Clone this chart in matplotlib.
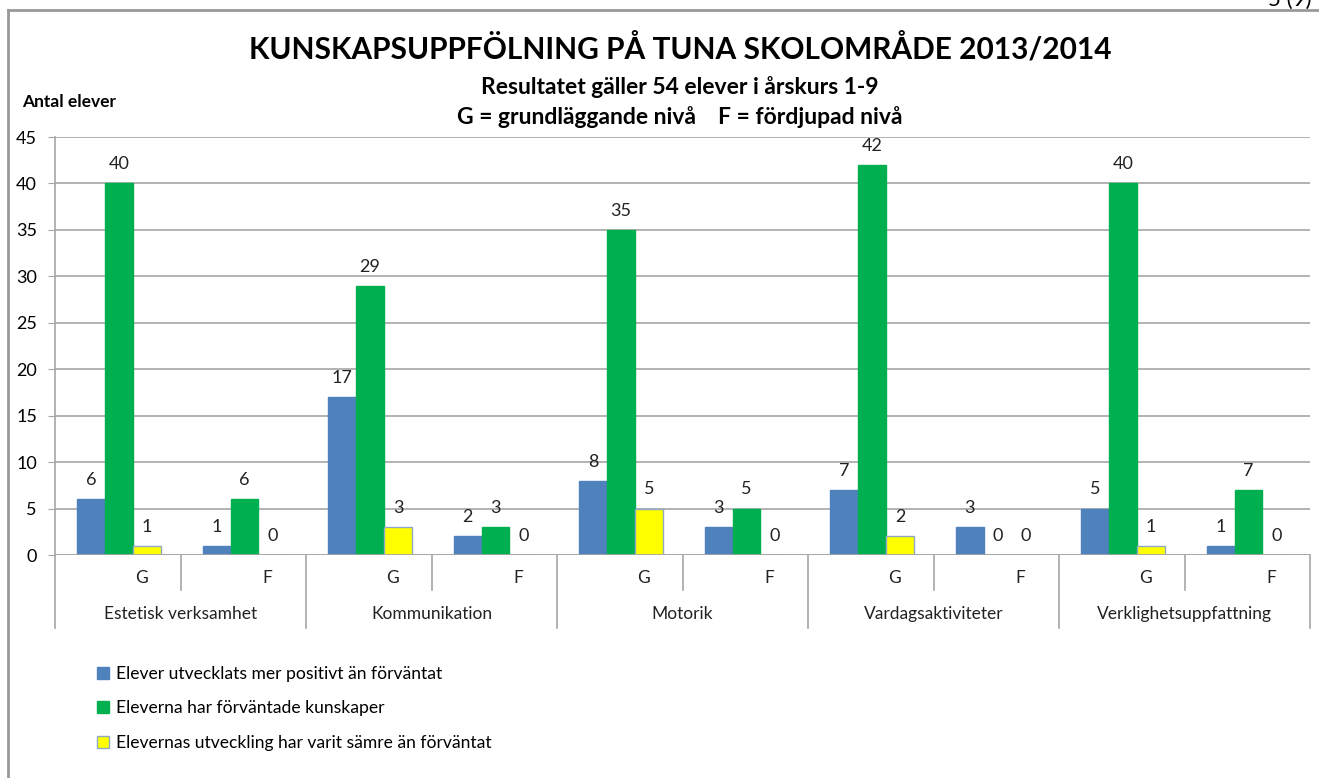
import matplotlib
matplotlib.use("Agg")
import matplotlib.pyplot as plt
from matplotlib.lines import Line2D
from matplotlib.patches import Patch

plt.rcParams['font.family'] = ['Lato', 'DejaVu Sans']

categories = ["Estetisk verksamhet", "Kommunikation", "Motorik",
              "Vardagsaktiviteter", "Verklighetsuppfattning"]
levels = ["G", "F"]
series_names = ["Elever utvecklats mer positivt än förväntat",
                "Eleverna har förväntade kunskaper",
                "Elevernas utveckling har varit sämre än förväntat"]
blue_vals = [6, 1, 17, 2, 8, 3, 7, 3, 5, 1]
green_vals = [40, 6, 29, 3, 35, 5, 42, 0, 40, 7]
yellow_vals = [1, 0, 3, 0, 5, 0, 2, 0, 1, 0]
yticks = list(range(0, 50, 5))

W, H = 1319, 778
fig = plt.figure(figsize=(W / 100, H / 100), dpi=100)
ax = fig.add_axes([55 / W, 1 - 555 / H, (1310 - 55) / W, (555 - 137) / H])

colors = ["#4F81BD", "#00B050", "#FFFF00"]
edges = ["#4F81BD", "#00B050", "#8EA9C8"]
bw = 0.223
n = len(blue_vals)
for k, vals in enumerate([blue_vals, green_vals, yellow_vals]):
    xs = [i + 0.5 + (k - 1) * bw + 0.01 for i in range(n)]
    bars = ax.bar(xs, vals, width=bw, color=colors[k], edgecolor=edges[k],
                  linewidth=1, zorder=3)
    ax.bar_label(bars, padding=8, fontsize=13, color="#222222")

ax.set_xlim(0, n)
ax.set_ylim(0, 45)
ax.set_yticks(yticks)
ax.set_yticklabels([str(t) for t in yticks], fontsize=13)
ax.yaxis.grid(True, color="#A6A6A6", linewidth=1.2, zorder=0)
ax.set_axisbelow(True)
ax.set_xticks([])
for s in ["top", "right", "bottom"]:
    ax.spines[s].set_visible(False)
ax.spines["left"].set_color("#A6A6A6")
ax.spines["left"].set_linewidth(1.2)
ax.axhline(0, color="#A6A6A6", linewidth=1.2, zorder=4)
ax.tick_params(axis="y", length=5, color="#A6A6A6", pad=8)

trans = ax.get_xaxis_transform()
ax_h = 555 - 137
for b in range(n + 1):
    depth = -73 / ax_h if b % 2 == 0 else -35 / ax_h
    ax.add_line(Line2D([b, b], [0, depth], transform=trans, color="#A6A6A6",
                       linewidth=1.2, clip_on=False))
for i in range(n):
    ax.text(i + 0.5 + 0.19, -23 / ax_h, levels[i % 2], transform=trans,
            ha="center", va="center", fontsize=12.5, color="#222222")
for c, name in enumerate(categories):
    ax.text(2 * c + 1, -59 / ax_h, name, transform=trans, ha="center",
            va="center", fontsize=12.5, color="#222222")

fig.text(680 / W, 1 - 48 / H, "KUNSKAPSUPPFÖLNING PÅ TUNA SKOLOMRÅDE 2013/2014",
         ha="center", va="center", fontsize=21.5, fontweight="bold")
fig.text(680 / W, 1 - 87 / H, "Resultatet gäller 54 elever i årskurs 1-9",
         ha="center", va="center", fontsize=16.5, fontweight="bold")
fig.text(680 / W, 1 - 117 / H, "G = grundläggande nivå    F = fördjupad nivå",
         ha="center", va="center", fontsize=16.5, fontweight="bold")
fig.text(22 / W, 1 - 102 / H, "Antal elever", ha="left", va="center",
         fontsize=12.5, fontweight="bold")
fig.text(1268 / W, 1 - 6 / H, "5 (9)", ha="left", va="baseline", fontsize=16)

# page frame
fig.add_artist(Line2D([8 / W, 8 / W], [0, 1 - 10 / H], transform=fig.transFigure,
                      color="#999999", linewidth=2))
fig.add_artist(Line2D([8 / W, 1], [1 - 10 / H, 1 - 10 / H], transform=fig.transFigure,
                      color="#999999", linewidth=2))

handles = [Patch(facecolor=colors[k], edgecolor=edges[k]) for k in range(3)]
fig.legend(handles, series_names, loc="upper left",
           bbox_to_anchor=(90 / W, 1 - 659 / H), frameon=False, fontsize=12.6,
           handlelength=0.7, handleheight=0.7, handletextpad=0.4,
           labelspacing=1.05, borderaxespad=0)

fig.savefig("out.png", dpi=100)
